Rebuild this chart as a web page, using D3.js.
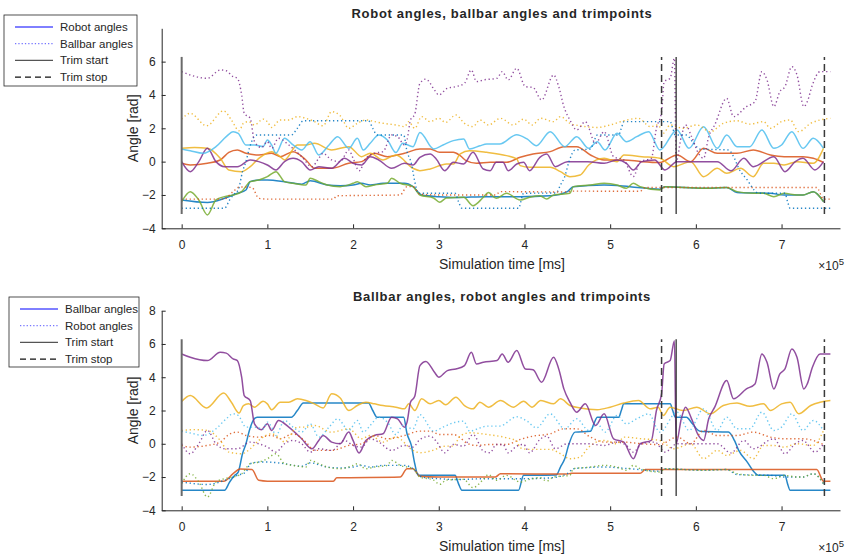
<!DOCTYPE html>
<html>
<head>
<meta charset="utf-8">
<script src="https://cdn.jsdelivr.net/npm/d3@7"></script>
<style>
  body { margin: 0; background: #fff; }
  text { font-family: "Liberation Sans", Arial, sans-serif; fill: #262626; }
</style>
</head>
<body>
<svg id="chart" width="845" height="554"></svg>
<script>
// time in units of 1e5 ms, angle in rad
const robotBlue = [[0,-2.3],[0.3,-2.45],[0.5,-2.2],[0.65,-1.9],[0.75,-1.7],[0.8,-1.2],[0.9,-1.1],[1.0,-1.1],[1.2,-1.2],[1.4,-1.35],[1.5,-1.15],[1.7,-1.4],[1.85,-1.45],[2.0,-1.4],[2.1,-1.3],[2.2,-1.4],[2.35,-1.3],[2.6,-1.3],[2.7,-1.5],[2.8,-2.0],[3.0,-2.1],[3.2,-2.15],[3.56,-2.1],[3.95,-2.1],[4.3,-2.05],[4.5,-1.8],[4.57,-1.5],[4.93,-1.4],[5.23,-1.5],[5.58,-1.65],[5.64,-1.5],[6.09,-1.6],[6.36,-1.55],[6.48,-1.85],[6.87,-1.9],[7.03,-2.0],[7.25,-2.0],[7.37,-1.8],[7.49,-2.4]];
const robotOrange = [[0,-0.1],[0.1,-0.2],[0.3,-0.1],[0.45,0.1],[0.55,0.55],[0.65,0.7],[0.75,0.5],[0.9,0.4],[1.05,0.5],[1.15,0.3],[1.3,0.6],[1.45,0.1],[1.55,-0.4],[1.75,-0.4],[1.95,-0.1],[2.1,0.0],[2.25,0.5],[2.4,0.3],[2.6,0.5],[2.78,0.76],[2.9,0.76],[3.01,0.56],[3.17,0.56],[3.25,0.36],[3.32,0.06],[3.44,-0.1],[3.6,-0.04],[3.79,-0.04],[3.95,0.26],[4.1,0.46],[4.3,0.6],[4.46,0.9],[4.61,0.9],[4.77,0.4],[4.93,0.1],[5.16,0.1],[5.37,0.0],[5.58,-0.05],[5.78,0.4],[5.94,0.0],[6.09,0.8],[6.25,0.5],[6.48,0.5],[6.67,0.7],[6.87,0.4],[7.03,0.3],[7.25,0.3],[7.37,0.2],[7.49,-0.05]];
const robotYellow = [[0,0.8],[0.15,0.85],[0.3,0.8],[0.45,0.2],[0.55,-0.5],[0.7,-0.6],[0.8,-0.3],[0.9,0.2],[1.05,0.6],[1.15,0.3],[1.2,0.1],[1.35,1.0],[1.45,1.0],[1.55,1.1],[1.75,0.7],[1.95,0.9],[2.1,0.3],[2.2,0.5],[2.35,0.1],[2.5,0.4],[2.7,-0.4],[2.78,-0.54],[2.9,-0.44],[3.09,-0.14],[3.17,-0.14],[3.25,0.46],[3.36,0.66],[3.56,0.56],[3.79,0.36],[3.91,0.16],[3.95,-0.24],[4.06,-0.34],[4.3,-0.34],[4.42,-0.6],[4.53,-0.9],[4.65,-0.8],[4.75,-0.2],[4.93,0.2],[5.08,0.0],[5.16,0.4],[5.37,0.3],[5.58,0.2],[5.74,-0.3],[5.94,0.0],[6.09,-0.9],[6.25,-0.4],[6.36,-0.7],[6.52,-0.4],[6.67,-0.9],[6.79,-0.1],[6.91,-0.1],[7.03,-0.2],[7.18,0.0],[7.37,-0.1],[7.49,0.8]];
const robotPurple = [[0,0.0],[0.1,-0.6],[0.2,0.0],[0.3,0.8],[0.4,0.0],[0.5,-0.3],[0.65,-0.3],[0.8,0.1],[0.9,0.0],[1.0,-0.2],[1.1,-0.5],[1.2,0.0],[1.3,0.2],[1.4,0.0],[1.5,-0.5],[1.6,-0.3],[1.75,-0.4],[1.9,0.2],[2.0,-0.1],[2.1,-0.2],[2.2,0.3],[2.3,0.1],[2.45,-0.4],[2.6,-0.1],[2.7,-0.2],[2.78,0.26],[2.9,0.46],[2.97,0.16],[3.07,-0.54],[3.17,-0.04],[3.29,-0.14],[3.4,0.56],[3.52,-0.44],[3.6,-0.54],[3.67,-0.04],[3.75,-0.04],[3.81,-0.54],[3.91,-0.14],[3.99,-0.04],[4.06,-0.54],[4.18,0.26],[4.26,0.46],[4.36,-0.3],[4.5,0.0],[4.74,0.0],[4.93,-0.1],[5.08,0.1],[5.19,-0.1],[5.27,-0.5],[5.37,0.0],[5.52,0.1],[5.64,-0.5],[5.78,0.0],[6.09,0.0],[6.25,0.0],[6.41,-0.55],[6.56,0.2],[6.67,-0.3],[6.91,0.3],[7.04,-0.6],[7.16,0.0],[7.25,0.2],[7.39,-0.5],[7.49,0.0]];
const robotGreen = [[0,-2.4],[0.1,-1.8],[0.2,-2.3],[0.3,-3.2],[0.4,-2.3],[0.5,-2.1],[0.6,-2.0],[0.7,-1.8],[0.8,-1.2],[0.9,-1.1],[1.0,-0.9],[1.1,-0.6],[1.2,-1.2],[1.3,-1.3],[1.45,-1.4],[1.5,-1.0],[1.6,-1.2],[1.7,-1.4],[1.85,-1.5],[2.0,-1.3],[2.05,-1.2],[2.15,-1.5],[2.25,-1.4],[2.4,-1.3],[2.45,-1.0],[2.55,-1.3],[2.7,-1.5],[2.78,-2.0],[2.94,-2.18],[3.01,-2.44],[3.09,-2.18],[3.29,-2.14],[3.4,-2.64],[3.52,-2.14],[3.58,-1.85],[3.67,-2.2],[3.79,-1.9],[3.95,-2.3],[4.06,-2.14],[4.18,-2.04],[4.26,-2.24],[4.34,-2.0],[4.53,-1.9],[4.57,-1.5],[4.77,-1.4],[4.93,-1.3],[5.08,-1.4],[5.19,-1.6],[5.27,-1.3],[5.35,-1.5],[5.58,-1.7],[5.64,-1.5],[6.09,-1.6],[6.36,-1.55],[6.48,-1.8],[6.67,-1.9],[6.79,-1.9],[6.91,-2.1],[7.03,-1.9],[7.18,-2.0],[7.25,-2.0],[7.37,-1.8],[7.49,-2.4]];
const robotLightBlue = [[0,0.75],[0.1,0.65],[0.25,0.5],[0.4,0.9],[0.52,1.5],[0.6,1.8],[0.66,1.7],[0.75,1.0],[0.85,1.0],[0.95,0.9],[1.0,1.3],[1.05,1.0],[1.1,0.5],[1.2,1.4],[1.3,1.0],[1.4,0.7],[1.5,1.2],[1.6,0.4],[1.72,1.0],[1.82,1.5],[1.95,0.8],[2.05,1.4],[2.12,0.7],[2.2,1.1],[2.3,1.6],[2.4,1.3],[2.5,0.55],[2.58,1.1],[2.7,0.9],[2.78,1.75],[2.94,0.76],[3.05,1.0],[3.17,1.26],[3.29,1.36],[3.36,0.76],[3.48,0.95],[3.56,1.06],[3.71,1.06],[3.91,1.62],[4.03,1.36],[4.14,0.96],[4.3,1.8],[4.47,0.9],[4.61,1.5],[4.75,0.8],[4.85,1.2],[4.94,0.7],[5.08,1.7],[5.19,1.2],[5.31,1.5],[5.45,1.8],[5.58,0.7],[5.78,1.9],[5.92,0.8],[6.09,2.1],[6.25,0.8],[6.36,1.6],[6.48,0.9],[6.63,0.9],[6.77,1.9],[6.91,0.8],[7.0,1.0],[7.12,1.8],[7.25,0.8],[7.37,1.4],[7.49,0.8]];

const ballbarBlue = [[0,-2.8],[0.5,-2.8],[0.56,-2.3],[0.62,-1.9],[0.66,-1.7],[0.71,-0.6],[0.75,0.0],[0.79,0.8],[0.84,1.45],[0.88,1.6],[1.28,1.6],[1.35,2.0],[1.42,2.45],[2.18,2.45],[2.23,2.0],[2.28,1.6],[2.59,1.6],[2.63,0.6],[2.68,-0.1],[2.72,-1.2],[2.76,-1.9],[3.19,-1.9],[3.23,-2.4],[3.27,-2.8],[3.93,-2.8],[3.99,-1.9],[4.37,-1.88],[4.42,-1.4],[4.47,-0.9],[4.52,0.0],[4.59,0.7],[4.77,0.75],[4.81,1.2],[4.85,1.6],[5.1,1.6],[5.13,2.0],[5.16,2.4],[5.7,2.4],[5.73,2.0],[5.76,1.6],[5.89,1.6],[5.96,1.2],[6.05,0.75],[6.38,0.7],[6.45,0.2],[6.5,-0.4],[6.6,-1.1],[6.68,-1.7],[6.73,-1.9],[7.04,-1.9],[7.07,-2.4],[7.1,-2.8],[7.57,-2.8]];
const ballbarOrange = [[0,-2.25],[0.49,-2.25],[0.6,-1.8],[0.68,-1.52],[0.82,-1.55],[0.9,-2.2],[1.0,-2.25],[1.77,-2.25],[1.81,-2.05],[2.55,-2.0],[2.63,-1.5],[2.7,-1.5],[2.78,-1.95],[3.0,-2.0],[3.66,-2.0],[3.72,-1.8],[4.5,-1.82],[4.55,-1.77],[5.35,-1.78],[5.41,-1.55],[7.41,-1.55],[7.49,-2.25],[7.57,-2.25]];
const ballbarYellow = [[0,2.55],[0.1,2.9],[0.29,2.15],[0.49,3.05],[0.58,2.5],[0.67,1.85],[0.72,2.3],[0.78,2.4],[0.85,2.2],[0.95,2.55],[1.0,2.4],[1.05,2.05],[1.15,2.5],[1.25,2.5],[1.35,2.7],[1.45,2.6],[1.55,2.4],[1.65,2.15],[1.75,3.0],[1.85,2.75],[1.95,2.0],[2.05,2.3],[2.15,2.5],[2.25,2.4],[2.35,2.3],[2.5,2.2],[2.6,2.1],[2.65,2.4],[2.72,2.0],[2.8,2.7],[2.9,2.4],[3.0,2.6],[3.08,2.35],[3.2,2.8],[3.3,2.3],[3.4,2.1],[3.48,2.5],[3.58,2.2],[3.72,2.6],[3.87,2.2],[3.99,2.55],[4.09,2.2],[4.19,2.6],[4.34,2.4],[4.42,2.7],[4.53,2.3],[4.65,2.15],[4.85,2.05],[5.0,2.2],[5.16,2.45],[5.33,2.6],[5.47,2.1],[5.56,2.2],[5.62,1.7],[5.7,2.2],[5.85,2.0],[6.01,2.2],[6.17,1.8],[6.32,2.3],[6.48,2.45],[6.63,2.25],[6.79,2.4],[6.87,2.0],[7.0,2.4],[7.1,2.5],[7.2,1.8],[7.34,2.3],[7.45,2.5],[7.57,2.6]];
const ballbarPurple = [[0,5.4],[0.1,5.2],[0.3,5.0],[0.45,5.5],[0.52,5.45],[0.6,5.1],[0.65,5.0],[0.7,4.0],[0.73,2.9],[0.8,2.6],[0.85,1.2],[0.93,0.85],[1.0,1.2],[1.05,0.8],[1.13,1.4],[1.25,1.0],[1.4,0.3],[1.52,-0.3],[1.6,0.2],[1.65,0.5],[1.75,0.1],[1.85,0.0],[1.95,0.7],[2.0,0.2],[2.07,-0.55],[2.15,0.2],[2.25,0.5],[2.35,0.6],[2.45,1.6],[2.52,1.5],[2.6,1.0],[2.63,1.3],[2.67,2.5],[2.72,2.85],[2.78,4.7],[2.85,4.95],[2.95,4.3],[3.0,4.0],[3.1,4.4],[3.2,4.5],[3.3,4.7],[3.38,5.5],[3.44,4.8],[3.52,4.9],[3.68,5.0],[3.74,5.4],[3.81,4.9],[3.91,5.6],[4.01,4.5],[4.1,4.45],[4.2,3.7],[4.34,5.2],[4.4,4.5],[4.46,3.3],[4.53,2.5],[4.61,1.9],[4.71,2.4],[4.83,1.1],[4.93,1.8],[5.04,0.3],[5.16,0.1],[5.27,-0.9],[5.35,0.0],[5.48,0.2],[5.54,2.0],[5.6,3.0],[5.63,4.8],[5.7,5.0],[5.75,6.2],[5.77,0.0],[5.83,1.5],[5.88,2.2],[5.95,1.5],[6.03,0.5],[6.09,0.2],[6.15,1.5],[6.22,2.2],[6.36,3.8],[6.44,2.7],[6.59,3.3],[6.69,3.6],[6.77,5.4],[6.83,4.9],[6.91,3.3],[6.98,4.2],[7.04,4.5],[7.12,5.7],[7.18,5.2],[7.26,3.3],[7.3,3.6],[7.36,4.6],[7.45,5.4],[7.57,5.4]];

const robotSeries = [robotBlue, robotOrange, robotYellow, robotPurple, robotGreen, robotLightBlue];
const ballbarSeries = [ballbarBlue, ballbarOrange, ballbarYellow, ballbarPurple];
const seriesColors = ["#0072BD", "#D95319", "#EDB120", "#7E2F8E", "#77AC30", "#4DBEEE"];

const trimStart = [0, 5.77];
const trimStop = [5.6, 7.5];
const trimSpan = [-Math.PI, 2 * Math.PI];

const xTicks = [0, 1, 2, 3, 4, 5, 6, 7];

const svg = d3.select("#chart");

const x = d3.scaleLinear().domain([-0.233, 7.682]).range([161.7, 840]);

function drawPanel(top, bottom, title, solid, dotted, legendLabels, yTicks, legendBox) {
  const y = d3.scaleLinear().domain([-4, 8]).range([bottom, top]);
  const g = svg.append("g");

  const line = d3.line()
      .x(d => x(d[0]))
      .y(d => y(d[1]))
      .curve(d3.curveMonotoneX);

  g.append("g")
    .selectAll("path")
    .data(solid)
    .join("path")
      .attr("d", line)
      .attr("fill", "none")
      .attr("stroke", (d, i) => seriesColors[i])
      .attr("stroke-width", 1.5)
      .attr("stroke-opacity", 0.85)
      .attr("stroke-linejoin", "round");

  g.append("g")
    .selectAll("path")
    .data(dotted)
    .join("path")
      .attr("d", line)
      .attr("fill", "none")
      .attr("stroke", (d, i) => seriesColors[i])
      .attr("stroke-width", 1.4)
      .attr("stroke-opacity", 0.85)
      .attr("stroke-dasharray", "1.3,2.7");

  // trim lines
  g.selectAll(".tstart")
    .data(trimStart)
    .join("line")
      .attr("x1", d => x(d)).attr("x2", d => x(d))
      .attr("y1", y(trimSpan[0])).attr("y2", y(trimSpan[1]))
      .attr("stroke", (d, i) => i == 0 ? "#6a6a6a" : "#222")
      .attr("stroke-width", (d, i) => i == 0 ? 2 : 1.2);

  g.selectAll(".tstop")
    .data(trimStop)
    .join("line")
      .attr("x1", d => x(d)).attr("x2", d => x(d))
      .attr("y1", y(trimSpan[0])).attr("y2", y(trimSpan[1]))
      .attr("stroke", "#3a3a3a")
      .attr("stroke-width", 1.5)
      .attr("stroke-dasharray", "7,4");

  // axes
  const yAxis = g.append("g")
      .attr("transform", "translate(161.7,0)")
      .call(d3.axisLeft(y).tickValues(yTicks).tickSizeInner(-4).tickSizeOuter(0).tickPadding(6));
  const xAxis = g.append("g")
      .attr("transform", `translate(0,${bottom})`)
      .call(d3.axisBottom(x).tickValues(xTicks).tickSizeInner(-4).tickSizeOuter(0).tickPadding(12));
  [yAxis, xAxis].forEach(a => {
    a.select(".domain").attr("stroke", "#262626");
    a.selectAll(".tick line").attr("stroke", "#262626");
    a.selectAll(".tick text").style("font-size", "12px").attr("fill", "#262626")
      .style("font-family", "'Liberation Sans', Arial, sans-serif");
  });

  g.append("text")
      .attr("x", 502).attr("y", top - 10)
      .attr("text-anchor", "middle")
      .style("font-size", "13px").style("font-weight", "bold")
      .style("letter-spacing", "0.7px")
      .attr("fill", "#000")
      .text(title);

  g.append("text")
      .attr("x", 502).attr("y", bottom + 41)
      .attr("text-anchor", "middle")
      .style("font-size", "14px")
      .text("Simulation time [ms]");

  const mult = g.append("text")
      .attr("x", 844).attr("y", bottom + 42)
      .attr("text-anchor", "end")
      .style("font-size", "12px");
  mult.append("tspan").text("\u00d710");
  mult.append("tspan").attr("dy", -5).style("font-size", "9.5px").text("5");

  g.append("text")
      .attr("transform", `translate(138,${(top + bottom) / 2}) rotate(-90)`)
      .attr("text-anchor", "middle")
      .style("font-size", "14px")
      .text("Angle [rad]");

  // legend
  const lg = g.append("g");
  lg.append("rect")
      .attr("x", legendBox[0]).attr("y", legendBox[1])
      .attr("width", legendBox[2]).attr("height", legendBox[3])
      .attr("fill", "#fff").attr("stroke", "#262626").attr("stroke-width", 0.8);
  const items = [
    { label: legendLabels[0], stroke: "#0000ff", dash: null, w: 1 },
    { label: legendLabels[1], stroke: "#7777ff", dash: "1.3,2", w: 1.2 },
    { label: "Trim start", stroke: "#555", dash: null, w: 1.2 },
    { label: "Trim stop", stroke: "#111", dash: "6,4", w: 1.2 }
  ];
  items.forEach((it, i) => {
    const yy = legendBox[1] + 12 + i * 16.7;
    lg.append("line")
        .attr("x1", legendBox[0] + 11).attr("x2", legendBox[0] + 49)
        .attr("y1", yy).attr("y2", yy)
        .attr("stroke", it.stroke).attr("stroke-width", it.w)
        .attr("stroke-dasharray", it.dash);
    lg.append("text")
        .attr("x", legendBox[0] + 56).attr("y", yy + 4)
        .style("font-size", "11.5px")
        .attr("fill", "#000")
        .text(it.label);
  });
}

drawPanel(28.3, 228.3, "Robot angles, ballbar angles and trimpoints",
  robotSeries, ballbarSeries, ["Robot angles", "Ballbar angles"], [-4, -2, 0, 2, 4, 6], [4, 15, 133, 71]);
drawPanel(310.7, 510.3, "Ballbar angles, robot angles and trimpoints",
  ballbarSeries, robotSeries, ["Ballbar angles", "Robot angles"], [-4, -2, 0, 2, 4, 6, 8], [9, 297, 130, 70]);
</script>
</body>
</html>
